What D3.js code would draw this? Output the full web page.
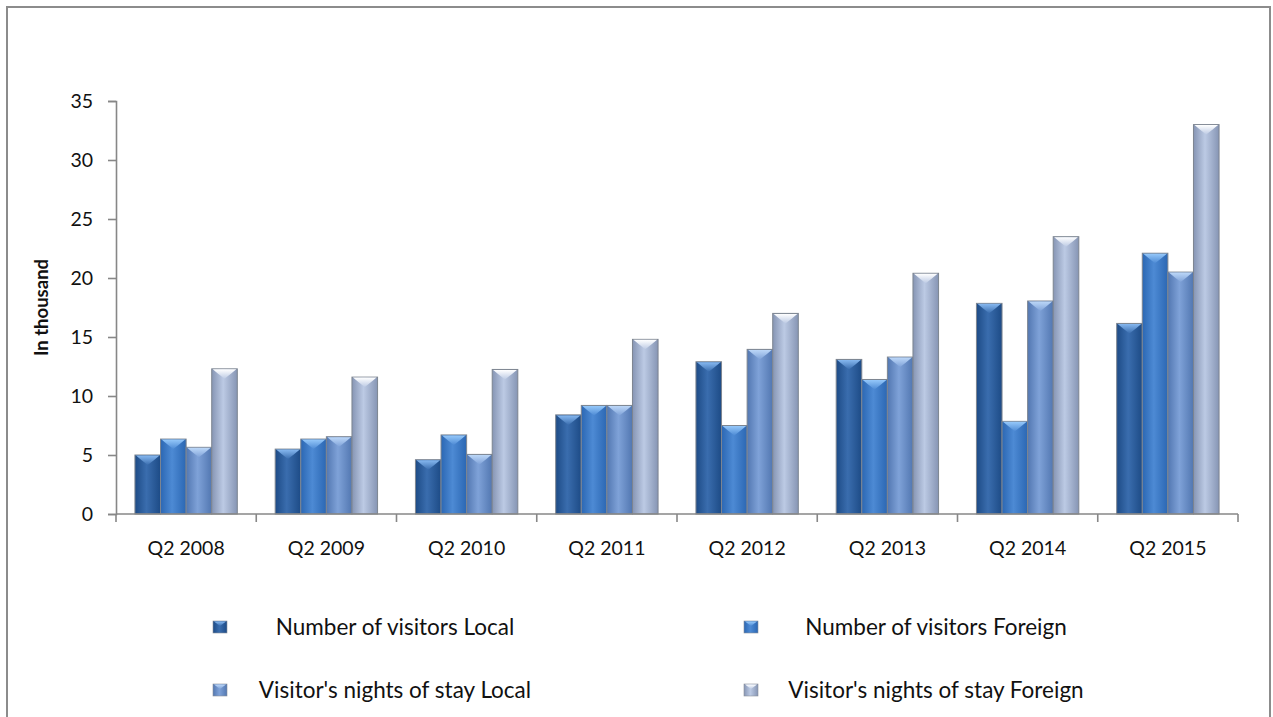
<!DOCTYPE html>
<html>
<head>
<meta charset="utf-8">
<script src="https://cdn.jsdelivr.net/npm/d3@7"></script>
<style>
  html, body { margin: 0; padding: 0; background: #fff; }
  svg { display: block; }
  text { font-family: Lato, "Open Sans", sans-serif; fill: #111; }
</style>
</head>
<body>
<svg id="chart" width="1273" height="717"></svg>
<script>
const categories = ["Q2 2008", "Q2 2009", "Q2 2010", "Q2 2011", "Q2 2012", "Q2 2013", "Q2 2014", "Q2 2015"];
const seriesNames = ["Number of visitors Local", "Number of visitors Foreign", "Visitor's nights of stay Local", "Visitor's nights of stay Foreign"];
const visitorsLocal   = [5.0, 5.5, 4.6, 8.4, 12.9, 13.1, 17.85, 16.15];
const visitorsForeign = [6.35, 6.35, 6.7, 9.2, 7.5, 11.4, 7.85, 22.1];
const nightsLocal     = [5.65, 6.55, 5.05, 9.2, 13.95, 13.3, 18.05, 20.5];
const nightsForeign   = [12.3, 11.6, 12.25, 14.8, 17.0, 20.4, 23.5, 33.0];
const yTicks = [0, 5, 10, 15, 20, 25, 30, 35];
const yTitle = "In thousand";

const seriesValues = [visitorsLocal, visitorsForeign, nightsLocal, nightsForeign];
// colours: [edge, centre, chevron]
const palette = [
  ["#1d4b86", "#3a6dae", "#86b8f0"],
  ["#2b67b3", "#4d8ad4", "#95c8fa"],
  ["#5277b1", "#7fa2d8", "#bcd7f8"],
  ["#8695b4", "#bccae4", "#ffffff"]
];

const svg = d3.select("#chart");
const defs = svg.append("defs");
palette.forEach((c, i) => {
  const g = defs.append("linearGradient").attr("id", "grad" + i)
    .attr("x1", "0%").attr("x2", "100%").attr("y1", "0%").attr("y2", "0%");
  g.append("stop").attr("offset", "0%").attr("stop-color", c[0]);
  g.append("stop").attr("offset", "45%").attr("stop-color", c[1]);
  g.append("stop").attr("offset", "100%").attr("stop-color", c[0]);
  const t = defs.append("linearGradient").attr("id", "top" + i)
    .attr("x1", "0%").attr("x2", "0%").attr("y1", "0%").attr("y2", "100%");
  t.append("stop").attr("offset", "0%").attr("stop-color", c[2]);
  t.append("stop").attr("offset", "100%").attr("stop-color", c[1]);
});

// outer frame
svg.append("rect").attr("x", 7).attr("y", 7).attr("width", 1263).attr("height", 740)
  .attr("fill", "none").attr("stroke", "#8c8c8c").attr("stroke-width", 2);

const plot = { left: 116, right: 1238, top: 101, bottom: 514 };

const x0 = d3.scaleBand().domain(categories).range([plot.left, plot.right]).padding(0);
const x1 = d3.scaleBand().domain(d3.range(seriesNames.length)).range([0, x0.bandwidth()])
  .paddingInner(0).paddingOuter(0.74);
const y = d3.scaleLinear().domain([0, 35]).range([plot.bottom, plot.top]);

// Y axis
const yAxis = svg.append("g").attr("transform", `translate(${plot.left},0)`)
  .call(d3.axisLeft(y).tickValues(yTicks).tickSize(8).tickPadding(15).tickSizeOuter(8));
yAxis.select(".domain").attr("stroke", "#878787").attr("stroke-width", 1.6);
yAxis.selectAll(".tick line").attr("stroke", "#878787").attr("stroke-width", 1.6);
yAxis.selectAll(".tick text").attr("font-size", 19.5).attr("font-family", "Lato, sans-serif").attr("fill", "#111");

// bars
const groups = svg.append("g").selectAll("g").data(categories).join("g")
  .attr("transform", d => `translate(${x0(d)},0)`);

groups.each(function(cat, ci) {
  const g = d3.select(this);
  seriesValues.forEach((vals, si) => {
    const v = vals[ci];
    const bx = x1(si), bw = x1.bandwidth();
    const top = y(v), h = y(0) - y(v);
    g.append("rect").attr("x", bx).attr("y", top).attr("width", bw).attr("height", h)
      .attr("fill", `url(#grad${si})`).attr("stroke", "#7d8590").attr("stroke-width", 1);
    g.append("path")
      .attr("d", `M${bx + 1},${top + 0.5} L${bx + bw - 1},${top + 0.5} L${bx + bw * 0.75},${top + 5} L${bx + bw / 2},${top + 10} L${bx + bw * 0.25},${top + 5} Z`)
      .attr("fill", `url(#top${si})`);
  });
});

// X axis
const xAxis = svg.append("g").attr("transform", `translate(0,${plot.bottom})`)
  .call(d3.axisBottom(x0).tickSize(0).tickPadding(27));
xAxis.select(".domain").remove();
xAxis.selectAll(".tick text").attr("font-size", 19.5).attr("font-family", "Lato, sans-serif").attr("fill", "#111");
svg.append("line").attr("x1", plot.left).attr("x2", plot.right).attr("y1", plot.bottom).attr("y2", plot.bottom)
  .attr("stroke", "#878787").attr("stroke-width", 1.6);
const boundaries = categories.map(c => x0(c)).concat([x0(categories[categories.length - 1]) + x0.bandwidth()]);
svg.append("g").selectAll("line").data(boundaries).join("line")
  .attr("x1", d => d).attr("x2", d => d).attr("y1", plot.bottom).attr("y2", plot.bottom + 8)
  .attr("stroke", "#878787").attr("stroke-width", 1.6);

// Y title
svg.append("text").attr("transform", `translate(48,${(plot.top + plot.bottom) / 2}) rotate(-90)`)
  .attr("text-anchor", "middle").attr("font-size", 18.5).attr("font-weight", "bold").text(yTitle);

// legend
const legendPos = [
  { mx: 213, tx: 395, y: 627 },
  { mx: 744, tx: 936, y: 627 },
  { mx: 213, tx: 395, y: 690 },
  { mx: 744, tx: 936, y: 690 }
];
const legend = svg.append("g").selectAll("g").data(seriesNames).join("g");
legend.append("rect")
  .attr("x", (d, i) => legendPos[i].mx).attr("y", (d, i) => legendPos[i].y - 6)
  .attr("width", 14).attr("height", 12).attr("fill", (d, i) => `url(#grad${i})`)
  .attr("stroke", "#8a8f99").attr("stroke-width", 0.6);
legend.append("path")
  .attr("d", (d, i) => { const p = legendPos[i]; return `M${p.mx + 1},${p.y - 5.5} L${p.mx + 13},${p.y - 5.5} L${p.mx + 7},${p.y - 1} Z`; })
  .attr("fill", (d, i) => `url(#top${i})`);
legend.append("text")
  .attr("x", (d, i) => legendPos[i].tx).attr("y", (d, i) => legendPos[i].y)
  .attr("dy", "0.35em").attr("text-anchor", "middle").attr("font-size", 22.5).text(d => d);
</script>
</body>
</html>
